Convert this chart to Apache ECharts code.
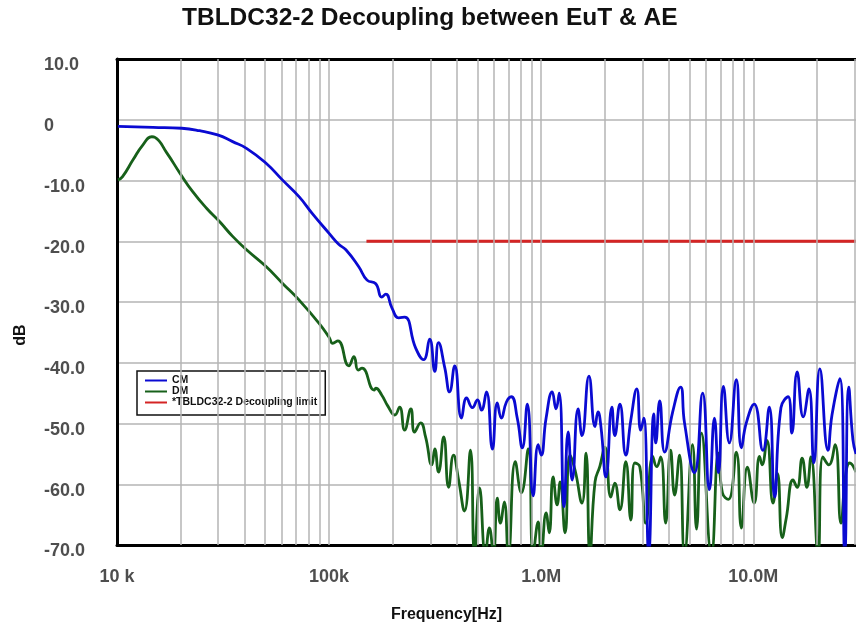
<!DOCTYPE html>
<html>
<head>
<meta charset="utf-8">
<title>TBLDC32-2 Decoupling between EuT & AE</title>
<script src="https://cdn.jsdelivr.net/npm/echarts@6/dist/echarts.min.js"></script>
<style>
  html, body { margin: 0; padding: 0; background: #fff; }
  #chart { width: 856px; height: 628px; }
</style>
</head>
<body>
<div id="chart"></div>
<script>
// ===== data (frequency in Hz, level in dB) =====
const cmFreq = [10.1e3, 14.8e3, 20.2e3, 24.5e3, 29.8e3, 35.1e3, 40.8e3, 50.6e3, 60.2e3, 72.3e3,
  83.2e3, 100e3, 111e3, 120e3, 138e3, 151e3, 166e3, 177e3, 185e3, 198e3,
  213e3, 227e3, 256e3, 279e3, 298e3, 315e3, 328e3, 351e3, 370e3, 391e3,
  421e3, 445e3, 474e3, 501e3, 523e3, 552e3, 589e3, 621e3, 649e3, 685e3,
  723e3, 771e3, 815e3, 860e3, 917e3, 968e3, 1.00e6, 1.055e6, 1.127e6, 1.175e6,
  1.216e6, 1.282e6, 1.34e6, 1.40e6, 1.493e6, 1.557e6, 1.68e6, 1.794e6, 1.853e6, 1.914e6,
  2.02e6, 2.155e6, 2.224e6, 2.35e6, 2.506e6, 2.647e6, 2.823e6, 2.946e6, 3.047e6, 3.214e6,
  3.395e6, 3.467e6, 3.622e6, 3.82e6, 4.169e6, 4.54e6, 4.74e6, 5.28e6, 5.77e6, 6.21e6,
  6.56e6, 6.85e6, 7.23e6, 7.71e6, 8.32e6, 8.79e6, 9.27e6, 10.1e6, 11.1e6, 11.9e6,
  12.6e6, 13.5e6, 14.6e6, 15.2e6, 16.1e6, 17.2e6, 18.3e6, 19.3e6, 20.6e6, 22.5e6,
  23.5e6, 25.6e6, 27.0e6, 28.2e6, 29.5e6, 30.5e6];
const cmLevel = [-1.1, -1.25, -1.4, -1.8, -2.5, -3.6, -4.7, -7.2, -9.9, -12.7,
  -15.4, -18.7, -20.5, -21.4, -24.2, -26.4, -27.0, -29.2, -28.7, -31.0,
  -32.6, -32.5, -37.6, -39.5, -36.1, -41.4, -36.7, -40.8, -44.8, -40.5,
  -49.1, -45.8, -47.4, -46.1, -47.8, -44.8, -54.2, -46.6, -49.1, -46.5,
  -45.6, -49.1, -54.0, -46.8, -61.9, -53.5, -55.2, -49.1, -44.8, -47.6,
  -45.0, -63.7, -51.4, -59.3, -47.6, -52.0, -42.2, -50.5, -48.1, -50.6,
  -58.8, -47.3, -52.0, -46.8, -55.2, -49.4, -44.3, -51.1, -49.1, -71.5,
  -48.4, -53.2, -46.3, -54.7, -48.1, -44.0, -49.9, -58.1, -45.0, -60.9,
  -49.1, -58.1, -43.9, -53.2, -42.8, -54.0, -49.9, -46.8, -54.4, -47.3,
  -62.1, -47.4, -45.6, -51.6, -41.5, -48.9, -44.3, -56.5, -41.0, -54.4,
  -48.6, -42.6, -71.5, -44.0, -52.7, -55.0];

const dmFreq = [10.1e3, 10.6e3, 11.9e3, 13.2e3, 14.6e3, 15.1e3, 17.2e3, 19.8e3, 22.7e3, 26.5e3,
  30.5e3, 35.1e3, 40.8e3, 50.6e3, 60.2e3, 72.3e3, 89.7e3, 100e3, 104e3, 110e3,
  124e3, 131e3, 137e3, 143e3, 163e3, 166e3, 177e3, 189e3, 204e3, 215e3,
  227e3, 243e3, 253e3, 270e3, 285e3, 305e3, 315e3, 328e3, 347e3, 366e3,
  386e3, 408e3, 435e3, 464e3, 485e3, 512e3, 546e3, 570e3, 595e3, 621e3,
  642e3, 670e3, 700e3, 755e3, 806e3, 869e3, 917e3, 968e3, 1.00e6, 1.055e6,
  1.091e6, 1.138e6, 1.189e6, 1.229e6, 1.296e6, 1.368e6, 1.445e6, 1.557e6, 1.627e6, 1.698e6,
  1.794e6, 1.892e6, 1.997e6, 2.13e6, 2.224e6, 2.35e6, 2.506e6, 2.647e6, 2.761e6, 2.917e6,
  3.112e6, 3.356e6, 3.505e6, 3.66e6, 3.864e6, 4.077e6, 4.258e6, 4.49e6, 4.74e6, 5.17e6,
  5.40e6, 5.70e6, 6.35e6, 6.85e6, 7.15e6, 7.63e6, 8.32e6, 8.79e6, 9.38e6, 10.1e6,
  10.7e6, 11.0e6, 11.6e6, 12.4e6, 13.0e6, 13.7e6, 14.3e6, 15.4e6, 16.1e6, 17.0e6,
  17.9e6, 18.7e6, 20.2e6, 21.3e6, 22.7e6, 24.3e6, 25.9e6, 27.3e6, 28.5e6, 30.5e6];
const dmLevel = [-9.9, -9.4, -6.6, -4.2, -2.8, -2.9, -5.5, -8.8, -11.8, -14.6,
  -16.8, -19.2, -21.4, -24.2, -26.9, -29.7, -33.5, -35.8, -36.8, -36.4,
  -40.5, -39.0, -41.2, -40.9, -44.5, -44.2, -45.3, -47.1, -48.6, -47.3,
  -51.1, -47.6, -51.4, -49.9, -52.2, -56.8, -54.2, -58.0, -52.2, -60.5,
  -55.2, -59.3, -64.4, -54.4, -71.5, -60.6, -71.5, -67.2, -71.5, -62.3,
  -66.4, -62.9, -71.5, -56.3, -61.4, -54.2, -71.5, -66.2, -71.5, -64.7,
  -68.0, -58.8, -63.4, -59.6, -68.0, -55.2, -57.7, -63.1, -54.9, -71.5,
  -59.6, -57.0, -53.9, -62.1, -59.8, -64.2, -56.3, -65.9, -56.5, -57.1,
  -66.4, -55.4, -57.1, -55.5, -66.4, -54.4, -61.8, -55.2, -71.5, -53.5,
  -67.4, -51.6, -71.5, -54.9, -61.4, -62.5, -54.7, -67.2, -57.2, -63.1,
  -55.4, -56.8, -52.8, -63.1, -58.2, -68.8, -65.6, -59.3, -60.5, -55.7,
  -60.5, -55.5, -71.5, -55.5, -56.8, -53.5, -66.4, -58.2, -56.5, -58.0];

const limitFreq = [150e3, 30.5e6];
const limitLevel = [-20, -20];

const seriesNames = ['CM', 'DM', '*TBLDC32-2 Decoupling limit'];
const seriesColors = ['#0a0ad2', '#17601a', '#d42424'];

const xTickValues = [1e4, 1e5, 1e6, 1e7];
const xTickLabels = ['10 k', '100k', '1.0M', '10.0M'];
const yTickValues = [-70, -60, -50, -40, -30, -20, -10, 0, 10];
const yTickLabels = ['-70.0', '-60.0', '-50.0', '-40.0', '-30.0', '-20.0', '-10.0', '0', '10.0'];

const X_MIN = 1e4, X_MAX = 3.05e7;

// ===== styles =====
const FONT = '"Liberation Sans", Arial, Helvetica, sans-serif';
const GRID_GRAY = '#b4b4b4';
const LABEL_GRAY = '#4e4e4e';

const pairs = (xs, ys) => xs.map((x, i) => [x, ys[i]]);

function tickLabel(values, labels, v, isLog) {
  for (let i = 0; i < values.length; i++) {
    const a = isLog ? Math.log10(v) : v;
    const b = isLog ? Math.log10(values[i]) : values[i];
    if (Math.abs(a - b) < 1e-6) return labels[i];
  }
  return '';
}

// log grid verticals: 2..9 x each decade, plus the decades themselves
const gridFreqs = [];
for (let dec = 1e4; dec < X_MAX; dec *= 10) {
  for (let k = 1; k <= 9; k++) {
    const f = dec * k;
    if (f > X_MIN && f < X_MAX * 0.99) gridFreqs.push(f);
  }
}

function lineSeries(name, data, color, z) {
  return {
    name: name,
    type: 'line',
    data: data,
    symbol: 'none',
    smooth: 0.5,
    clip: true,
    z: z,
    lineStyle: { color: color, width: 2.8 },
    itemStyle: { color: color },
    emphasis: { disabled: true }
  };
}

const chart = echarts.init(document.getElementById('chart'), null, { renderer: 'canvas' });
chart.setOption({
  animation: false,
  backgroundColor: '#ffffff',
  textStyle: { fontFamily: FONT },
  title: {
    text: 'TBLDC32-2 Decoupling between EuT & AE',
    left: 182,
    top: 6,
    padding: 0,
    textStyle: { fontFamily: FONT, fontSize: 24.5, fontWeight: 'bold', color: '#111' }
  },
  legend: {
    data: seriesNames,
    orient: 'vertical',
    left: 137,
    top: 371,
    padding: [4, 8, 7, 8],
    itemGap: 0,
    icon: 'rect',
    itemWidth: 22,
    itemHeight: 2,
    backgroundColor: '#fff',
    borderColor: '#111',
    borderWidth: 1.5,
    borderRadius: 0,
    selectedMode: false,
    textStyle: { fontFamily: FONT, fontSize: 10.5, fontWeight: 'bold', color: '#111', lineHeight: 11 }
  },
  grid: { left: 117, right: -3, top: 59, bottom: 83, containLabel: false },
  xAxis: [{
    type: 'log',
    logBase: 10,
    min: X_MIN,
    max: X_MAX,
    position: 'bottom',
    name: 'Frequency[Hz]',
    nameLocation: 'middle',
    nameGap: 62,
    nameTextStyle: { fontFamily: FONT, fontSize: 16, fontWeight: 'bold', color: '#111', padding: [0, 80, 0, 0] },
    axisLine: { show: true, onZero: false, lineStyle: { color: '#000', width: 3 } },
    axisTick: { show: false },
    splitLine: { show: false },
    axisLabel: {
      margin: 23,
      fontFamily: FONT, fontSize: 18, fontWeight: 'bold', color: LABEL_GRAY,
      showMaxLabel: false,
      formatter: v => tickLabel(xTickValues, xTickLabels, v, true)
    }
  }, {
    type: 'log',
    logBase: 10,
    min: X_MIN,
    max: X_MAX,
    position: 'top',
    axisLine: { show: true, onZero: false, lineStyle: { color: '#000', width: 3 } },
    axisTick: { show: false },
    axisLabel: { show: false },
    splitLine: { show: false }
  }],
  yAxis: {
    type: 'value',
    min: -70,
    max: 10,
    interval: 10,
    name: 'dB',
    nameLocation: 'middle',
    nameGap: 88,
    nameRotate: 90,
    nameTextStyle: { fontFamily: FONT, fontSize: 16, fontWeight: 'bold', color: '#111', padding: [0, 66, 0, 0] },
    axisLine: { show: true, onZero: false, lineStyle: { color: '#000', width: 3 } },
    axisTick: { show: false },
    splitLine: { show: true, lineStyle: { color: GRID_GRAY, width: 1.5 } },
    axisLabel: {
      margin: 73,
      align: 'left',
      verticalAlign: 'top',
      lineHeight: 13,
      fontFamily: FONT, fontSize: 18, fontWeight: 'bold', color: LABEL_GRAY,
      formatter: v => tickLabel(yTickValues, yTickLabels, v, false)
    }
  },
  series: [
    {
      name: 'gridlines',
      type: 'line',
      data: [],
      z: 1,
      silent: true,
      markLine: {
        silent: true,
        symbol: 'none',
        animation: false,
        label: { show: false },
        lineStyle: { color: GRID_GRAY, width: 1.5, type: 'solid' },
        emphasis: { disabled: true },
        data: gridFreqs.map(f => ({ xAxis: f }))
      }
    },
    lineSeries(seriesNames[2], pairs(limitFreq, limitLevel), seriesColors[2], 3),
    lineSeries(seriesNames[1], pairs(dmFreq, dmLevel), seriesColors[1], 4),
    lineSeries(seriesNames[0], pairs(cmFreq, cmLevel), seriesColors[0], 5)
  ]
});
</script>
</body>
</html>
